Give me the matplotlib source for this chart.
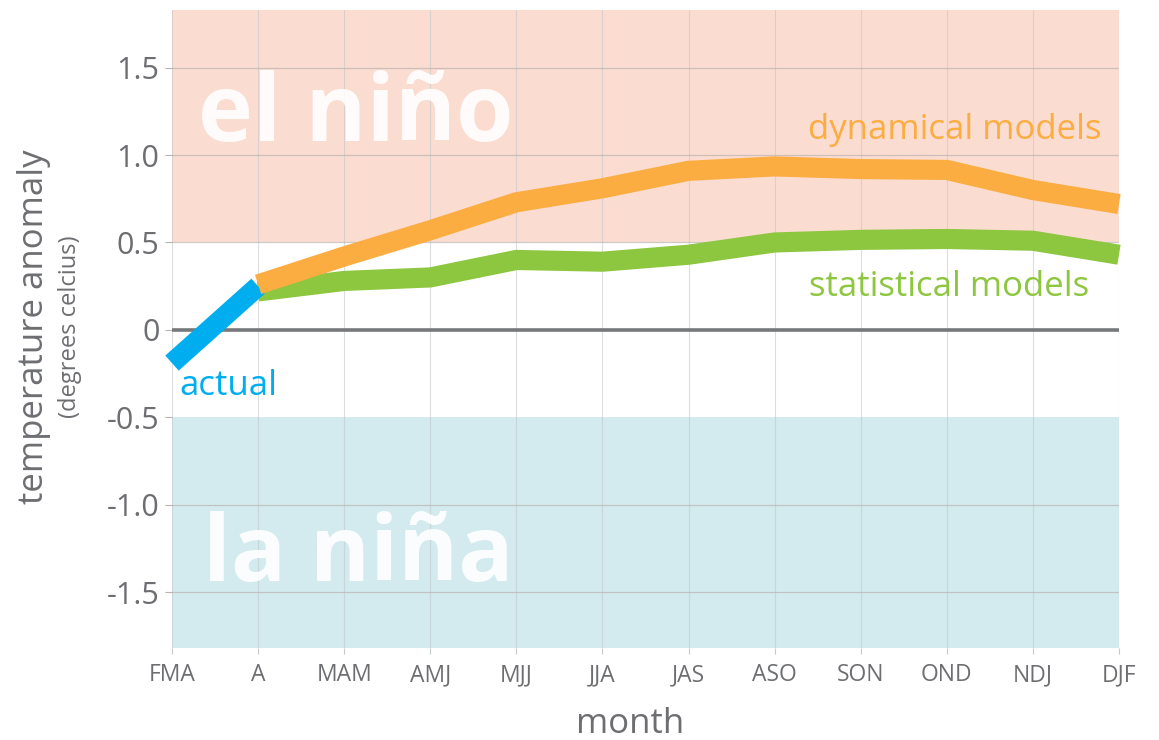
import matplotlib
matplotlib.use("Agg")
import matplotlib.pyplot as plt
import numpy as np

# chart data
MONTHS = ["FMA", "A", "MAM", "AMJ", "MJJ", "JJA", "JAS", "ASO", "SON", "OND", "NDJ", "DJF"]
ACTUAL = [-0.19, 0.25]  # FMA, A
DYNAMICAL = [0.26, 0.42, 0.57, 0.73, 0.81, 0.91, 0.935, 0.92, 0.915, 0.80, 0.72]  # A .. DJF
STATISTICAL = [0.22, 0.28, 0.30, 0.40, 0.39, 0.43, 0.50, 0.515, 0.52, 0.51, 0.43]  # A .. DJF
Y_TICKS = [-1.5, -1.0, -0.5, 0, 0.5, 1.0, 1.5]
Y_TICK_LABELS = ["-1.5", "-1.0", "-0.5", "0", "0.5", "1.0", "1.5"]

FONT = "Open Sans"
GRAY = "#6d6e71"
PINK = "#fbdcd1"
TEAL = "#d3ebee"
ORANGE = "#fbad41"
GREEN = "#8dc63f"
BLUE = "#00aeef"


def main() -> None:
    plt.rcParams["font.family"] = [FONT, "DejaVu Sans"]
    fig = plt.figure(figsize=(11.59, 7.40), dpi=100)
    ax = fig.add_axes([0.1484, 0.1243, 0.8171, 0.8622])

    x = np.arange(len(MONTHS))
    ymin, ymax = -1.82, 1.83
    ax.set_xlim(0, len(MONTHS) - 1)
    ax.set_ylim(ymin, ymax)

    # background regions
    ax.axhspan(0.5, ymax, color=PINK, zorder=0, lw=0)
    ax.axhspan(ymin, -0.5, color=TEAL, zorder=0, lw=0)

    # grid
    for xi in x:
        ax.axvline(xi, color="#c3c9cb", lw=0.8, alpha=0.6, zorder=1)
    for yv in Y_TICKS:
        if yv in (-0.5, 0):
            continue
        ax.axhline(yv, color="#b9b3b0", lw=0.9, alpha=0.7, zorder=1)
    ax.axhline(0, color="#77787b", lw=2.6, zorder=2)

    # big region labels
    ax.text(0.3, 1.22, "el niño", color="white", fontsize=67, fontweight="bold",
            ha="left", va="center", alpha=0.9, zorder=2)
    ax.text(0.36, -1.30, "la niña", color="white", fontsize=66, fontweight="bold",
            ha="left", va="center", alpha=0.9, zorder=2)

    # lines
    lw = 14.5
    ax.plot(x[1:], STATISTICAL, color=GREEN, lw=lw, solid_capstyle="butt",
            solid_joinstyle="miter", zorder=3, clip_on=False)
    ax.plot(x[:2], ACTUAL, color=BLUE, lw=lw, solid_capstyle="butt",
            zorder=4, clip_on=False)
    ax.plot(x[1:], DYNAMICAL, color=ORANGE, lw=lw, solid_capstyle="butt",
            solid_joinstyle="miter", zorder=5, clip_on=False)

    # line labels
    ax.text(10.8, 1.145, "dynamical models", color=ORANGE, fontsize=25,
            ha="right", va="center", zorder=6)
    ax.text(10.65, 0.245, "statistical models", color=GREEN, fontsize=25,
            ha="right", va="center", zorder=6)
    ax.text(0.08, -0.32, "actual", color=BLUE, fontsize=25,
            ha="left", va="center", zorder=6)

    # axes styling
    for spine in ax.spines.values():
        spine.set_visible(False)
    ax.set_xticks(x)
    ax.set_xticklabels(MONTHS, fontsize=16.5, color=GRAY)
    ax.set_yticks(Y_TICKS)
    ax.set_yticklabels(Y_TICK_LABELS, fontsize=22, color=GRAY)
    ax.tick_params(axis="y", length=5, width=0.8, color="#b9b3b0", pad=4)
    ax.tick_params(axis="x", length=4, width=0.8, color="#c3c9cb", pad=7)

    fig.text(0.029, 0.558, "temperature anomaly", rotation=90, fontsize=25,
             color=GRAY, ha="center", va="center")
    fig.text(0.060, 0.558, "(degrees celcius)", rotation=90, fontsize=17,
             color=GRAY, ha="center", va="center")
    fig.text(0.544, 0.022, "month", fontsize=25, color=GRAY,
             ha="center", va="center")

    fig.savefig("out.png", dpi=100)
    plt.close(fig)


if __name__ == "__main__":
    main()
